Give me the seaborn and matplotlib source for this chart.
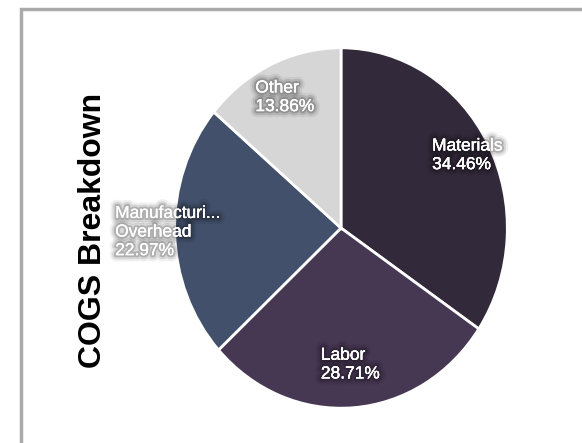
import matplotlib
matplotlib.use("Agg")
import matplotlib.pyplot as plt
import matplotlib.patheffects as pe
from matplotlib.lines import Line2D
import numpy as np
import seaborn as sns

sns.set_theme(style="white")
plt.rcParams['font.family'] = ['Liberation Sans Narrow', 'Liberation Sans', 'DejaVu Sans']

categories = ["Materials", "Labor", "Manufacturi...\nOverhead", "Other"]
values = [34.46, 28.71, 22.97, 13.86]
colors = ["#32293a", "#463752", "#42506b", "#d6d6d6"]
label_radius = [0.86, 0.76, 1.04, 0.80]
title = "COGS Breakdown"

fig = plt.figure(figsize=(5.82, 4.43), dpi=100)
fig.patch.set_facecolor("white")

# outer border (left and top only visible)
bx = 20.5 / 582
by = 1 - 8.5 / 443
fig.add_artist(Line2D([bx, bx, 1.02], [-0.02, by, by], transform=fig.transFigure,
                      color="#aaaaaa", linewidth=2.5, solid_joinstyle="miter"))

ax = fig.add_axes([173 / 582, (443 - 410) / 443, 336 / 582, 364 / 443])
wedges, _ = ax.pie(values, colors=colors, startangle=90, counterclock=False,
                   wedgeprops=dict(edgecolor="white", linewidth=2))
ax.set_aspect("auto")
ax.set_xlim(-1.01, 1.01)
ax.set_ylim(-1.01, 1.01)

total = sum(values)
start = 90.0
halo = [pe.withStroke(linewidth=9, foreground=(0, 0, 0, 0.06)),
        pe.withStroke(linewidth=6, foreground=(0, 0, 0, 0.10)),
        pe.withStroke(linewidth=3, foreground=(0, 0, 0, 0.18)),
        pe.Normal()]
for val, lab, r in zip(values, categories, label_radius):
    sweep = val / total * 360
    mid = np.deg2rad(start - sweep / 2)
    start -= sweep
    ax.text(r * np.cos(mid), r * np.sin(mid), f"{lab}\n{val:.2f}%",
            ha="center", va="center", multialignment="left",
            color="white", fontsize=12.5, linespacing=1.3,
            path_effects=halo)

fig.text(93 / 582, 1 - 230 / 443, title, rotation=90, ha="center", va="center",
         fontsize=23, fontweight="bold", color="black",
         family=['Liberation Sans', 'DejaVu Sans'])

fig.savefig("out.png", dpi=100)
